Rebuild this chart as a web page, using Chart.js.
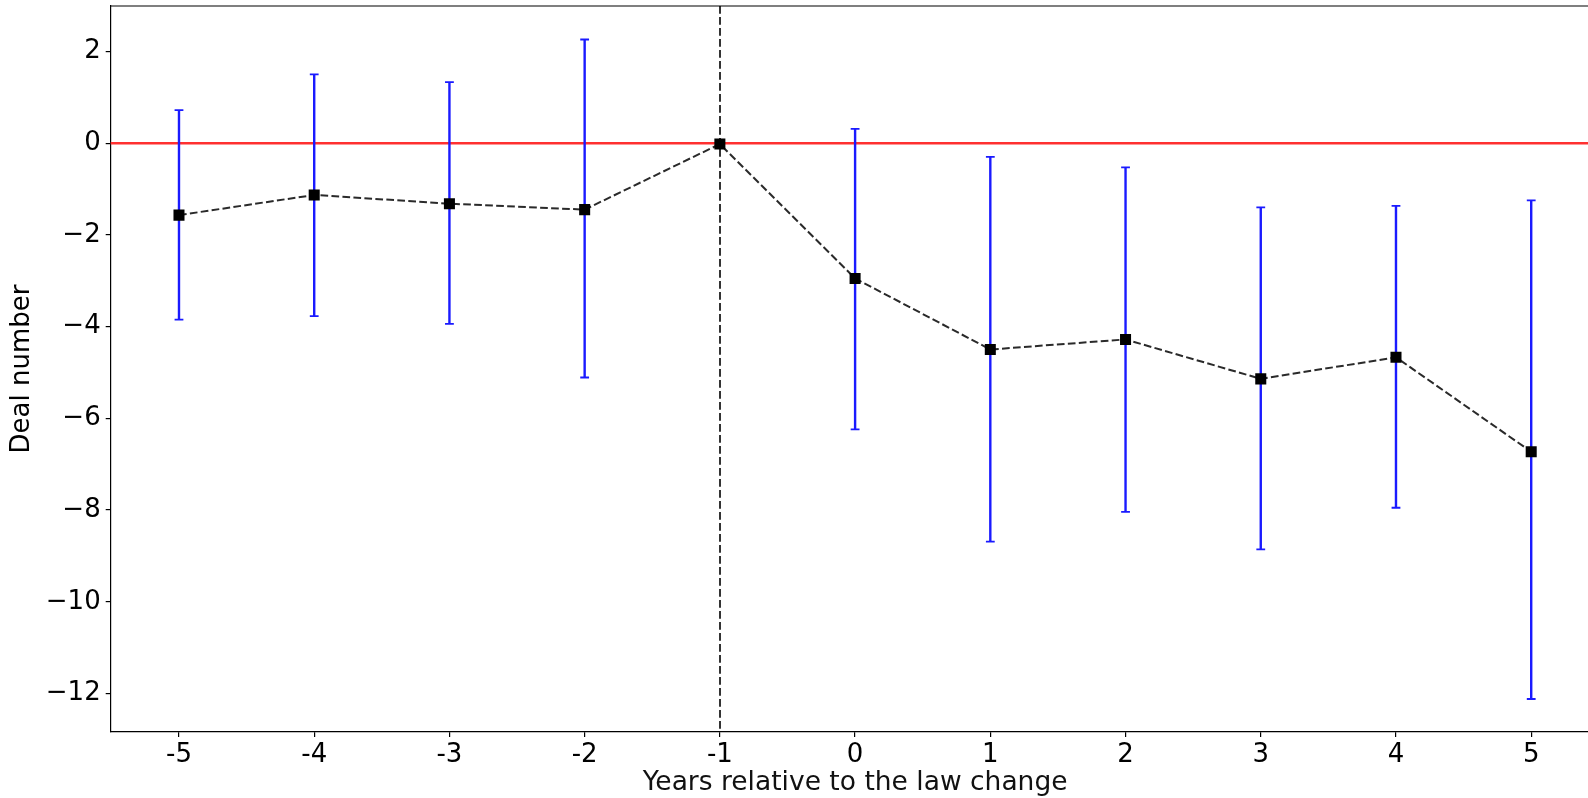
<!DOCTYPE html>
<html lang="en">

<head>
    <meta charset="UTF-8">
    <script src="https://cdn.jsdelivr.net/npm/chart.js@4.4.0/dist/chart.umd.min.js"></script>
    <title>Event study</title>
    <style>
        html, body { margin: 0; padding: 0; background: #fff; overflow: hidden; }
        .container { width: 1588px; height: 798px; }
    </style>
</head>

<body>
    <div class="container">
        <canvas id="myChart" width="1588" height="798"></canvas>
    </div>

    <script>
        // years relative to the law change
        const years = [-5, -4, -3, -2, -1, 0, 1, 2, 3, 4, 5];
        const estimates = [-1.57, -1.13, -1.32, -1.45, -0.02, -2.95, -4.50, -4.28, -5.14, -4.67, -6.73];
        const ciUpper = [0.72, 1.50, 1.33, 2.26, null, 0.31, -0.30, -0.53, -1.40, -1.37, -1.25];
        const ciLower = [-3.85, -3.77, -3.94, -5.11, null, -6.24, -8.69, -8.04, -8.86, -7.95, -12.12];
        const xTicks = [-5, -4, -3, -2, -1, 0, 1, 2, 3, 4, 5];
        const yTicks = [-12, -10, -8, -6, -4, -2, 0, 2];
        const refYear = -1;
        const xTitle = 'Years relative to the law change';

        const font = { family: 'DejaVu Sans', size: 26 };

        // reference lines, error bars, top spine and x title
        const extras = {
            id: 'extras',
            beforeDatasetsDraw(chart) {
                const { ctx, chartArea: a, scales: { x, y } } = chart;
                ctx.save();
                // red zero line
                ctx.strokeStyle = '#ff3030';
                ctx.lineWidth = 2.5;
                ctx.beginPath();
                ctx.moveTo(a.left, y.getPixelForValue(0));
                ctx.lineTo(a.right, y.getPixelForValue(0));
                ctx.stroke();
                // vertical dashed line at law change
                ctx.strokeStyle = '#333';
                ctx.lineWidth = 2;
                ctx.setLineDash([7.7, 3.3]);
                const vx = Math.round(x.getPixelForValue(refYear));
                ctx.beginPath();
                ctx.moveTo(vx, a.top);
                ctx.lineTo(vx, a.bottom);
                ctx.stroke();
                ctx.setLineDash([]);
                // error bars
                ctx.strokeStyle = '#1a1aff';
                years.forEach((yr, i) => {
                    if (ciUpper[i] === null) return;
                    const px = x.getPixelForValue(yr);
                    const top = y.getPixelForValue(ciUpper[i]);
                    const bot = y.getPixelForValue(ciLower[i]);
                    ctx.lineWidth = 2.4;
                    ctx.beginPath();
                    ctx.moveTo(px, top);
                    ctx.lineTo(px, bot);
                    ctx.stroke();
                    ctx.lineWidth = 1.8;
                    ctx.beginPath();
                    ctx.moveTo(px - 4.4, top);
                    ctx.lineTo(px + 4.4, top);
                    ctx.moveTo(px - 4.4, bot);
                    ctx.lineTo(px + 4.4, bot);
                    ctx.stroke();
                });
                ctx.restore();
            },
            afterDraw(chart) {
                const { ctx, chartArea: a, scales: { x } } = chart;
                ctx.save();
                ctx.strokeStyle = '#000';
                ctx.lineWidth = 1.2;
                ctx.beginPath();
                ctx.moveTo(a.left, a.top);
                ctx.lineTo(a.right, a.top);
                ctx.stroke();
                // x title is centred on the full (cropped) axes, i.e. on x = 0
                ctx.fillStyle = '#111';
                ctx.font = '26.5px "DejaVu Sans"';
                ctx.textAlign = 'center';
                ctx.textBaseline = 'middle';
                ctx.fillText(xTitle, x.getPixelForValue(0), 783);
                ctx.restore();
            }
        };

        const chart = new Chart(document.getElementById('myChart').getContext('2d'), {
            type: 'line',
            data: {
                datasets: [{
                    data: years.map((yr, i) => ({ x: yr, y: estimates[i] })),
                    borderColor: '#2a2a2a',
                    borderWidth: 2,
                    borderDash: [7.7, 3.3],
                    fill: false,
                    tension: 0,
                    pointStyle: 'rect',
                    pointRadius: 7.8,
                    pointBackgroundColor: '#000',
                    pointBorderColor: '#000',
                    pointBorderWidth: 0
                }]
            },
            plugins: [extras],
            options: {
                responsive: false,
                animation: false,
                events: [],
                layout: { autoPadding: false, padding: { top: 6, left: 0, right: 0, bottom: 0 } },
                plugins: { legend: { display: false }, tooltip: { enabled: false } },
                scales: {
                    x: {
                        type: 'linear',
                        min: -5.505,
                        max: 5.42,
                        afterBuildTicks: s => { s.ticks = xTicks.map(v => ({ value: v })); },
                        afterFit: s => { s.height = 66; s.paddingLeft = 0; s.paddingRight = 0; },
                        ticks: { color: '#000', font, padding: 3, maxRotation: 0, callback: v => String(v) },
                        grid: { drawOnChartArea: false, drawTicks: true, tickLength: 5, color: '#000', lineWidth: 1.2 },
                        border: { display: true, color: '#000', width: 1.2 }
                    },
                    y: {
                        min: -12.84,
                        max: 2.99,
                        afterBuildTicks: s => { s.ticks = yTicks.map(v => ({ value: v })); },
                        afterFit: s => { s.width = 110.7; s.paddingTop = 0; s.paddingBottom = 0; },
                        ticks: { color: '#000', font, padding: 5, callback: v => (v < 0 ? '\u2212' + Math.abs(v) : String(v)) },
                        grid: { drawOnChartArea: false, drawTicks: true, tickLength: 5, color: '#000', lineWidth: 1.2 },
                        border: { display: true, color: '#000', width: 1.2 },
                        title: { display: true, text: 'Deal number', color: '#000', font, padding: { top: 6.4, bottom: 0 } }
                    }
                }
            }
        });
    </script>
</body>

</html>
